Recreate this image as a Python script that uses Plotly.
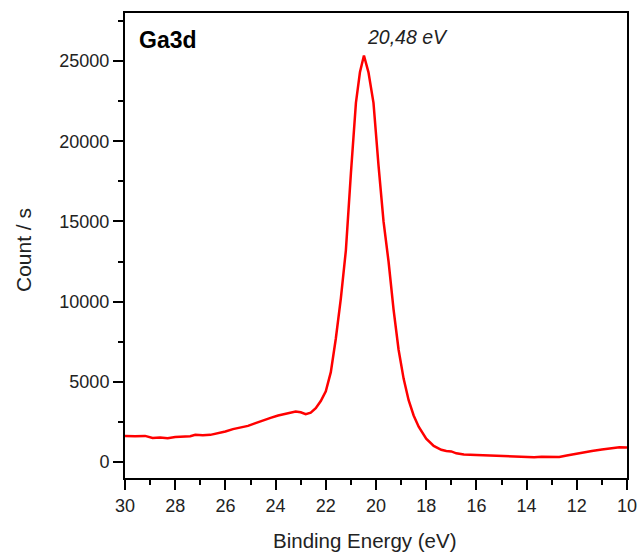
import plotly.graph_objects as go

energy = [30.0, 29.6, 29.2, 28.9, 28.6, 28.3, 28.0, 27.7, 27.4, 27.2, 26.9, 26.6, 26.3, 26.0,
          25.7, 25.4, 25.1, 24.8, 24.5, 24.2, 23.9, 23.6, 23.4, 23.2, 23.0, 22.8, 22.6, 22.4,
          22.2, 22.0, 21.8, 21.6, 21.4, 21.2, 21.0, 20.8, 20.64, 20.48, 20.3, 20.1, 19.9, 19.7,
          19.5, 19.3, 19.1, 18.9, 18.7, 18.5, 18.3, 18.0, 17.7, 17.4, 17.2, 17.0, 16.8, 16.5,
          16.0, 15.5, 15.0, 14.5, 14.0, 13.7, 13.4, 13.0, 12.7, 12.4, 12.0, 11.7, 11.4, 11.0,
          10.6, 10.3, 10.0]
counts = [1625, 1600, 1625, 1500, 1520, 1480, 1560, 1560, 1600, 1690, 1660, 1690, 1780, 1900,
          2050, 2130, 2250, 2420, 2600, 2750, 2900, 3000, 3060, 3150, 3100, 2980, 3080, 3350,
          3800, 4400, 5600, 7700, 10200, 13200, 18000, 22400, 24300, 25350, 24300, 22400, 18500, 15000,
          12500, 9500, 7000, 5200, 3850, 2900, 2200, 1450, 1000, 760, 680, 660, 540, 460,
          430, 400, 380, 360, 340, 300, 330, 340, 310, 400, 520, 620, 690, 780,
          860, 920, 900]

x_ticks = [30, 28, 26, 24, 22, 20, 18, 16, 14, 12, 10]
y_ticks = [0, 5000, 10000, 15000, 20000, 25000]
y_tick_labels = ["0", "5000", "10000", "15000", "20000", "25000"]
sample_label = "Ga3d"
peak_label = "20,48 eV"
x_title = "Binding Energy (eV)"
y_title = "Count / s"

FONT = "Liberation Sans, Arial"

fig = go.Figure()
fig.add_trace(go.Scatter(x=energy, y=counts, mode="lines",
                         line=dict(color="#ff0000", width=2.5), showlegend=False))

axis_common = dict(showline=True, linecolor="black", linewidth=2, mirror=True,
                   ticks="outside", ticklen=10, tickwidth=2, tickcolor="black",
                   showgrid=False, zeroline=False, automargin=False,
                   tickfont=dict(family=FONT, size=18, color="#222"))

fig.update_xaxes(range=[30, 10], tickvals=x_ticks,
                 minor=dict(dtick=1, ticks="outside", ticklen=5, tickwidth=2, tickcolor="black"),
                 **axis_common)
fig.update_yaxes(range=[-1000, 28000], tickvals=y_ticks, ticktext=y_tick_labels,
                 minor=dict(dtick=2500, ticks="outside", ticklen=5, tickwidth=2, tickcolor="black"),
                 **axis_common)

W, H = 641 - 125 - 14, 555 - 13 - 77

fig.add_annotation(x=(137 - 125) / W, y=(478 - 40) / H, xref="paper", yref="paper",
                   text=f"<b>{sample_label}</b>",
                   showarrow=False, xanchor="left", yanchor="middle",
                   font=dict(family=FONT, size=23, color="black"))
fig.add_annotation(x=18.76, y=26500, xref="x", yref="y", text=f"<i>{peak_label}</i>",
                   showarrow=False, xanchor="center", yanchor="middle",
                   font=dict(family=FONT, size=19.5, color="#222"))
# axis titles (positions given in pixels relative to the plot area)
fig.add_annotation(x=(364 - 125) / W, y=(478 - 540) / H, xref="paper", yref="paper", text=x_title,
                   showarrow=False, xanchor="center", yanchor="middle",
                   font=dict(family=FONT, size=20.5, color="#222"))
fig.add_annotation(x=(23 - 125) / W, y=(478 - 250) / H, xref="paper", yref="paper", text=y_title,
                   showarrow=False, textangle=-90, xanchor="center", yanchor="middle",
                   font=dict(family=FONT, size=21, color="#222"))

fig.update_layout(width=641, height=555, plot_bgcolor="white", paper_bgcolor="white",
                  margin=dict(l=125, r=14, t=13, b=77, autoexpand=False))

fig.write_html("out.html", config={"displayModeBar": False},
               post_script="document.body.style.margin='0';document.body.style.padding='0';document.body.style.overflow='hidden';")
